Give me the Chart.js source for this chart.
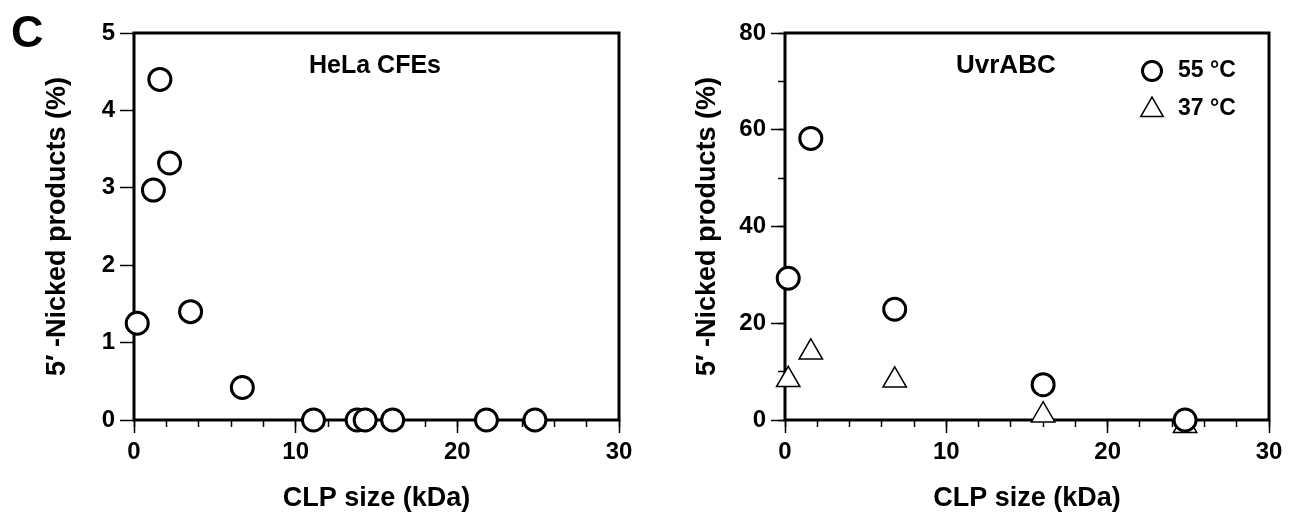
<!DOCTYPE html>
<html>
<head>
<meta charset="utf-8">
<script src="https://cdn.jsdelivr.net/npm/chart.js@4/dist/chart.umd.min.js"></script>
<style>
  html, body { margin: 0; padding: 0; background: #fff; }
  #wrap { position: relative; width: 1291px; height: 516px; }
  canvas { position: absolute; top: 0; }
</style>
</head>
<body>
<div id="wrap">
  <canvas id="hela" width="645" height="516" style="left:0"></canvas>
  <canvas id="uvr" width="646" height="516" style="left:645px"></canvas>
</div>
<script>
const FONT = '"Liberation Sans", Arial, Helvetica, sans-serif';

// HeLa CFEs panel
const helaSize   = [0.2, 1.2, 1.6, 2.2, 3.5, 6.7, 11.1, 13.8, 14.3, 16.0, 21.8, 24.8];
const helaNicked = [1.25, 2.97, 4.4, 3.32, 1.4, 0.42, 0, 0, 0, 0, 0, 0];

// UvrABC panel
const uvrSize   = [0.2, 1.6, 6.8, 16.0, 24.8];
const uvr55     = [29.3, 58.2, 22.9, 7.3, 0];
const uvr37     = [8.3, 14.0, 8.2, 1.0, -1.2];

const xTicksMajor = 10, xTicksMinor = 2;
const yTitle = '5\u2032 -Nicked products (%)';
const xTitle = 'CLP size (kDa)';

const toPoints = (xs, ys) => xs.map((x, i) => ({ x: x, y: ys[i] }));

function ticksOnly(len) {
  return { display: true, drawOnChartArea: false, drawTicks: true,
           tickLength: len, tickColor: '#000', tickWidth: 1.5 };
}

function makeScales(yMax, yMajor, yMinor, yWidth, titlePad) {
  const tickFont = { family: FONT, size: 24, weight: 'bold' };
  const titleFont = { family: FONT, size: 27, weight: 'bold' };
  const scales = {
    x: {
      type: 'linear', position: 'bottom', weight: 10, min: 0, max: 30,
      ticks: { stepSize: xTicksMajor, color: '#000', font: tickFont, padding: 5, maxRotation: 0 },
      grid: ticksOnly(13), border: { display: false },
      title: { display: true, text: xTitle, color: '#000', font: titleFont, padding: { top: 0, bottom: 1 } },
      afterFit(s) { s.height = 96; }
    },
    xMinor: {
      type: 'linear', position: 'bottom', weight: 0, min: 0, max: 30,
      ticks: { display: false, stepSize: xTicksMinor },
      grid: ticksOnly(7), border: { display: false },
      afterFit(s) { s.height = 0; }
    },
    y: {
      type: 'linear', position: 'left', weight: 10, min: 0, max: yMax,
      ticks: { stepSize: yMajor, color: '#000', font: tickFont, padding: 5 },
      grid: ticksOnly(14), border: { display: false },
      title: { display: true, text: yTitle, color: '#000', font: titleFont, padding: { top: titlePad, bottom: 0 } },
      afterFit(s) { s.width = yWidth; }
    }
  };
  if (yMinor) {
    scales.yMinor = {
      type: 'linear', position: 'left', weight: 0, min: 0, max: yMax,
      ticks: { display: false, stepSize: yMinor },
      grid: ticksOnly(7), border: { display: false },
      afterFit(s) { s.width = 0; }
    };
  }
  return scales;
}

// box around the plot area plus panel texts and a small legend
const framePlugin = {
  id: 'frame',
  beforeDatasetsDraw(chart) {
    const { ctx, chartArea: a } = chart;
    ctx.save();
    ctx.lineWidth = 3;
    ctx.strokeStyle = '#000';
    ctx.strokeRect(a.left, a.top, a.right - a.left, a.bottom - a.top);
    ctx.restore();
  },
  afterDraw(chart, args, opts) {
    const ctx = chart.ctx;
    ctx.save();
    ctx.fillStyle = '#000';
    ctx.textBaseline = 'alphabetic';
    (opts.texts || []).forEach(t => {
      ctx.font = 'bold ' + t.size + 'px ' + FONT;
      ctx.textAlign = t.align || 'left';
      ctx.fillText(t.text, t.x, t.y);
    });
    (opts.legend || []).forEach(item => {
      ctx.fillStyle = '#fff';
      ctx.strokeStyle = '#000';
      ctx.lineWidth = item.borderWidth;
      Chart.helpers.drawPoint(ctx, { pointStyle: item.style, radius: item.radius, borderWidth: item.borderWidth }, item.x, item.y);
      ctx.fillStyle = '#000';
      ctx.font = 'bold 23px ' + FONT;
      ctx.textAlign = 'left';
      ctx.textBaseline = 'middle';
      ctx.fillText(item.text, item.x + 26, item.ty);
    });
    ctx.restore();
  }
};

const circleStyle = {
  pointStyle: 'circle', pointRadius: 11, pointHoverRadius: 11,
  borderWidth: 3, borderColor: '#000', backgroundColor: '#fff',
  showLine: false, clip: false
};
const triangleStyle = {
  pointStyle: 'triangle', pointRadius: 13.5, pointHoverRadius: 13.5,
  borderWidth: 1.5, borderColor: '#000', backgroundColor: '#fff',
  showLine: false, clip: false
};

new Chart(document.getElementById('hela'), {
  type: 'scatter',
  data: {
    datasets: [
      Object.assign({ label: 'HeLa CFEs', data: toPoints(helaSize, helaNicked) }, circleStyle)
    ]
  },
  options: {
    responsive: false,
    animation: false,
    layout: { padding: { top: 33, right: 26, bottom: 0, left: 0 } },
    scales: makeScales(5, 1, null, 134, 41),
    plugins: {
      legend: { display: false },
      tooltip: { enabled: false },
      frame: {
        texts: [
          { text: 'C', x: 11, y: 47, size: 45 },
          { text: 'HeLa CFEs', x: 309, y: 73, size: 25 }
        ]
      }
    }
  },
  plugins: [framePlugin]
});

new Chart(document.getElementById('uvr'), {
  type: 'scatter',
  data: {
    datasets: [
      Object.assign({ label: '55 \u00B0C', data: toPoints(uvrSize, uvr55) }, circleStyle),
      Object.assign({ label: '37 \u00B0C', data: toPoints(uvrSize, uvr37) }, triangleStyle)
    ]
  },
  options: {
    responsive: false,
    animation: false,
    layout: { padding: { top: 33, right: 22, bottom: 0, left: 0 } },
    scales: makeScales(80, 20, 10, 140, 46),
    plugins: {
      legend: { display: false },
      tooltip: { enabled: false },
      frame: {
        texts: [
          { text: 'UvrABC', x: 311, y: 73, size: 26 }
        ],
        legend: [
          { text: '55 \u00B0C', style: 'circle', radius: 9.5, borderWidth: 3, x: 507, y: 71, ty: 71 },
          { text: '37 \u00B0C', style: 'triangle', radius: 13, borderWidth: 1.5, x: 507, y: 110, ty: 109 }
        ]
      }
    }
  },
  plugins: [framePlugin]
});
</script>
</body>
</html>
